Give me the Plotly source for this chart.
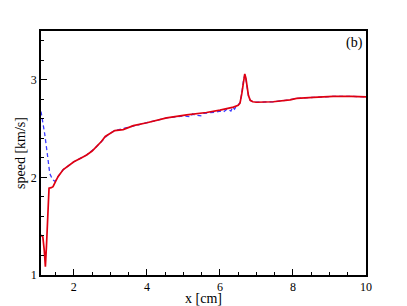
import plotly.graph_objects as go

# solid red curve
x_red = [1.10, 1.15, 1.19, 1.22, 1.25, 1.28, 1.30, 1.32, 1.38, 1.43, 1.50, 1.57, 1.71, 1.85,
         2.00, 2.20, 2.35, 2.50, 2.58, 2.68, 2.76, 2.86, 2.94, 3.05, 3.12, 3.35, 3.63, 4.00,
         4.54, 5.09, 5.63, 6.00, 6.37, 6.50, 6.55, 6.60, 6.64, 6.68, 6.71, 6.74, 6.78, 6.83,
         6.90, 7.00, 7.46, 7.92, 8.10, 8.56, 9.10, 9.60, 10.0]
y_red = [1.41, 1.39, 1.25, 1.085, 1.30, 1.65, 1.80, 1.89, 1.895, 1.905, 1.96, 2.01, 2.08, 2.12,
         2.16, 2.20, 2.23, 2.27, 2.30, 2.34, 2.37, 2.42, 2.44, 2.465, 2.48, 2.49, 2.53, 2.56,
         2.61, 2.64, 2.665, 2.69, 2.72, 2.74, 2.76, 2.86, 2.98, 3.06, 3.02, 2.93, 2.84, 2.79,
         2.775, 2.77, 2.775, 2.795, 2.81, 2.82, 2.83, 2.83, 2.825]

# dashed blue curve
x_blue = [1.10, 1.15, 1.20, 1.27, 1.34, 1.42, 1.48, 1.57, 1.71, 2.00, 2.35, 2.58, 2.76, 2.94,
          3.12, 3.63, 4.00, 4.54, 5.00, 5.20, 5.25, 5.30, 5.50, 5.55, 5.70, 5.90, 6.00, 6.10,
          6.20, 6.30, 6.35, 6.40, 6.45, 6.50, 6.55, 6.60, 6.64, 6.68, 6.71, 6.74, 6.78, 6.83,
          6.90, 7.00, 7.46, 7.92, 8.10, 8.56, 9.10, 9.60, 10.0]
y_blue = [2.675, 2.58, 2.45, 2.25, 2.04, 1.975, 1.96, 2.01, 2.08, 2.16, 2.23, 2.30, 2.37, 2.44,
          2.48, 2.53, 2.56, 2.61, 2.63, 2.62, 2.65, 2.64, 2.63, 2.655, 2.66, 2.67, 2.68, 2.67,
          2.70, 2.68, 2.72, 2.70, 2.73, 2.74, 2.77, 2.86, 2.98, 3.05, 3.01, 2.93, 2.84, 2.79,
          2.775, 2.77, 2.775, 2.795, 2.81, 2.82, 2.83, 2.83, 2.825]

fig = go.Figure()
fig.add_scatter(x=x_blue, y=y_blue, mode="lines",
                line=dict(color="#3a3aff", width=1.3, dash="4px,3px"))
fig.add_scatter(x=x_red, y=y_red, mode="lines",
                line=dict(color="#e00010", width=1.7))

axis_common = dict(showline=True, linecolor="black", linewidth=1.5, mirror=True,
                   showgrid=False, zeroline=False, ticks="inside", ticklen=6,
                   tickwidth=1.2, tickcolor="black", automargin=False,
                   tickfont=dict(family="Liberation Serif", size=12, color="black"))

fig.update_xaxes(range=[1.1, 10], tick0=0, dtick=2,
                 minor=dict(ticks="inside", ticklen=3, dtick=0.5, tick0=0, tickcolor="black"),
                 title=dict(text="x [cm]", standoff=2,
                            font=dict(family="Liberation Serif", size=14, color="black")),
                 **axis_common)
fig.update_yaxes(range=[1, 3.5], tick0=0, dtick=1,
                 minor=dict(ticks="inside", ticklen=3, dtick=0.2, tick0=0, tickcolor="black"),
                 title=dict(text="speed [km/s]", standoff=2,
                            font=dict(family="Liberation Serif", size=14, color="black")),
                 **axis_common)

fig.add_annotation(text="(b)", x=0.965, y=0.95, xref="paper", yref="paper",
                   showarrow=False, xanchor="center", yanchor="middle",
                   font=dict(family="Liberation Serif", size=14, color="black"))

# page body adds an 8px offset, so the figure is a bit smaller than the window
fig.update_layout(width=399, height=298, showlegend=False,
                  margin=dict(l=33, r=41, t=23, b=31),
                  paper_bgcolor="white", plot_bgcolor="white")

fig.write_html("out.html")
